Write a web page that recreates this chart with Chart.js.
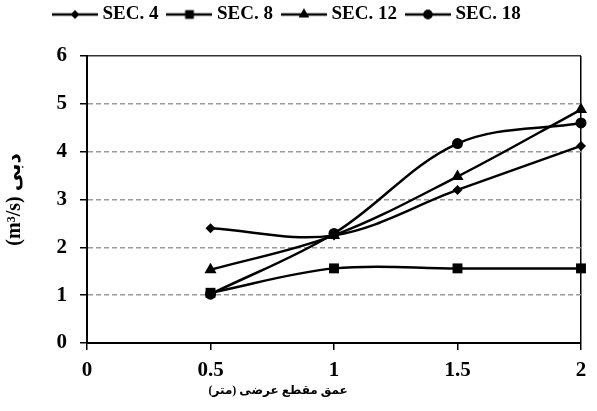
<!DOCTYPE html>
<html>
<head>
<meta charset="utf-8">
<script src="https://cdn.jsdelivr.net/npm/chart.js@4/dist/chart.umd.min.js"></script>
<style>
  html, body { margin: 0; padding: 0; background: #fff; }
  #wrap { width: 597px; height: 411px; }
</style>
</head>
<body>
<div id="wrap"><canvas id="c"></canvas></div>
<script>
// Discharge per cross-section depth
const depths = [0.5, 1, 1.5, 2];
const sec4  = [2.40, 2.25, 3.20, 4.12];
const sec8  = [1.05, 1.56, 1.56, 1.56];
const sec12 = [1.53, 2.25, 3.48, 4.88];
const sec18 = [1.02, 2.29, 4.17, 4.60];
const seriesNames = ['SEC. 4', 'SEC. 8', 'SEC. 12', 'SEC. 18'];
const xTicks = [0, 0.5, 1, 1.5, 2];
const yTicks = [0, 1, 2, 3, 4, 5, 6];
const xTitle = 'عمق مقطع عرضی (متر)';
const yTitle = '(m³/s) دبی';

const SERIF = '"Liberation Serif", "Times New Roman", "DejaVu Sans", serif';
const markerStyles = ['rectRot', 'rect', 'triangle', 'circle'];
const markerRadius = [5, 7, 7, 5.5];

// legend swatch: a short line with the series marker in the middle
function swatch(style, r) {
  const cv = document.createElement('canvas');
  cv.width = 46; cv.height = 16;
  const g = cv.getContext('2d');
  g.strokeStyle = '#000'; g.fillStyle = '#000'; g.lineWidth = 2.5;
  g.beginPath(); g.moveTo(0, 8); g.lineTo(46, 8); g.stroke();
  Chart.helpers.drawPoint(g, {pointStyle: style, radius: r * 0.85, rotation: 0, borderWidth: 0}, 23, 8);
  g.fill();
  return cv;
}

const allSeries = [sec4, sec8, sec12, sec18];
const datasets = allSeries.map((vals, i) => ({
  label: seriesNames[i],
  data: depths.map((x, k) => ({x, y: vals[k]})),
  borderColor: '#000',
  backgroundColor: '#000',
  borderWidth: 2.5,
  tension: 0.35,
  pointStyle: markerStyles[i],
  pointRadius: markerRadius[i],
  pointHoverRadius: markerRadius[i],
  pointBorderWidth: 0,
  clip: false,
  legendSwatch: swatch(markerStyles[i], markerRadius[i])
}));

// fixed legend band height; the legend row starts a little left of the plot
const legendFrame = {
  id: 'legendFrame',
  beforeUpdate(chart) {
    const lg = chart.legend;
    if (lg && !lg._patched) {
      const fit = lg.fit;
      lg.fit = function () { fit.call(this); this.height = 56; };
      lg._patched = true;
    }
  },
  afterLayout(chart) {
    const lg = chart.legend;
    lg.top -= 8;
    lg.left = 44;
  }
};

// x-axis caption (Persian text, set left of the axis centre)
const axisCaption = {
  id: 'axisCaption',
  afterDraw(chart) {
    const {ctx, chartArea} = chart;
    ctx.save();
    ctx.font = 'bold 12px ' + SERIF;
    ctx.fillStyle = '#000';
    ctx.textAlign = 'center';
    ctx.textBaseline = 'middle';
    ctx.fillText(xTitle, chartArea.left + (chartArea.right - chartArea.left) * 0.387, chartArea.bottom + 48);
    ctx.restore();
  }
};

const tickFont = {family: SERIF, size: 21, weight: 'bold'};

new Chart(document.getElementById('c'), {
  type: 'line',
  data: {datasets},
  plugins: [legendFrame, axisCaption],
  options: {
    responsive: true,
    maintainAspectRatio: false,
    animation: false,
    layout: {padding: {left: 0, right: 16, top: 0, bottom: 0}},
    plugins: {
      tooltip: {enabled: false},
      legend: {
        position: 'top',
        align: 'start',
        labels: {
          color: '#000',
          font: {family: SERIF, size: 19, weight: 'bold'},
          usePointStyle: true,
          pointStyleWidth: 36,
          boxHeight: 16,
          padding: 13,
          generateLabels(chart) {
            return chart.data.datasets.map((ds, i) => ({
              text: ds.label,
              pointStyle: ds.legendSwatch,
              fillStyle: '#000',
              strokeStyle: '#000',
              lineWidth: 0,
              fontColor: '#000',
              datasetIndex: i,
              hidden: false
            }));
          }
        }
      }
    },
    scales: {
      x: {
        type: 'linear',
        min: 0, max: 2,
        afterBuildTicks(scale) { scale.ticks = xTicks.map(v => ({value: v})); },
        afterFit(scale) { scale.height = 68; },
        ticks: {
          color: '#000', font: tickFont, padding: 8, maxRotation: 0,
          callback: v => String(v)
        },
        grid: {
          drawOnChartArea: true,
          color: c => (c.tick && c.tick.value === 2) ? '#000' : 'rgba(0,0,0,0)',
          lineWidth: 1.5,
          tickColor: '#000',
          tickWidth: 1.5,
          tickLength: 7
        },
        border: {color: '#000', width: 2}
      },
      y: {
        min: 0, max: 6,
        afterBuildTicks(scale) { scale.ticks = yTicks.map(v => ({value: v})); },
        afterFit(scale) { scale.width = 87; },
        ticks: {color: '#000', font: tickFont, padding: 13},
        grid: {
          color: c => {
            if (!c.tick) return '#999';
            if (c.tick.value === 0) return 'rgba(0,0,0,0)';
            if (c.tick.value === 6) return '#333';
            return '#9a9a9a';
          },
          lineWidth: 1.5,
          tickColor: '#000',
          tickWidth: 1.5,
          tickLength: 7
        },
        border: {
          color: '#000', width: 2,
          dash: c => (c.tick && c.tick.value > 0 && c.tick.value < 6) ? [5, 3] : []
        },
        title: {
          display: true, text: yTitle, color: '#000',
          font: {family: SERIF, size: 20, weight: 'bold'},
          padding: {top: 3, bottom: 0}
        }
      }
    }
  }
});
</script>
</body>
</html>
